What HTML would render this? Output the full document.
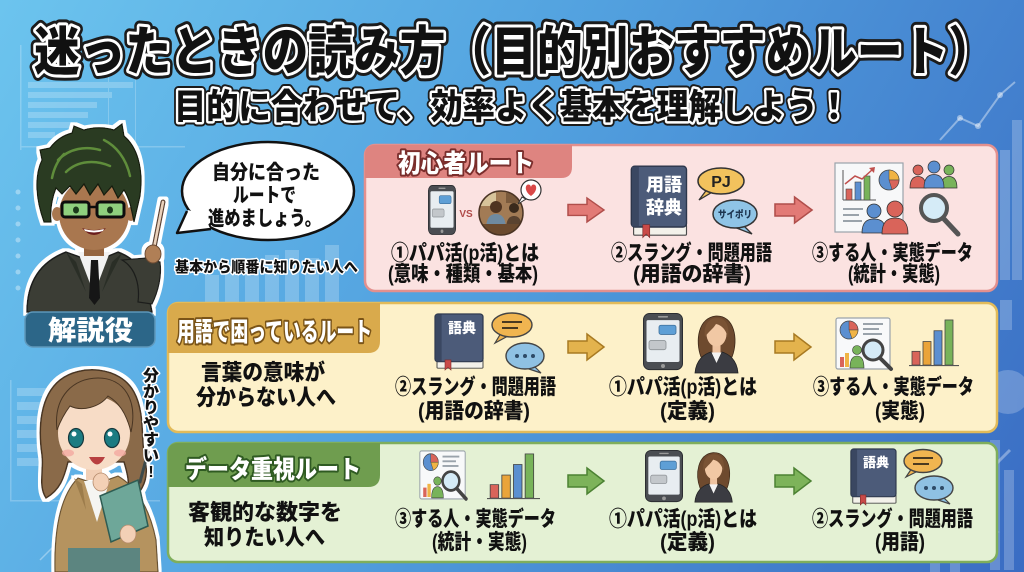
<!DOCTYPE html>
<html><head><meta charset="utf-8"><title>迷ったときの読み方</title>
<style>
html,body{margin:0;padding:0;width:1024px;height:572px;overflow:hidden;background:#4a8fd6}
svg{display:block}
text{font-family:"Liberation Sans","Noto Sans CJK JP",sans-serif;font-weight:900}
</style></head><body>
<svg xmlns="http://www.w3.org/2000/svg" width="1024" height="572" viewBox="0 0 1024 572">
<defs>
 <linearGradient id="bg" x1="0" y1="0" x2="1024" y2="572" gradientUnits="userSpaceOnUse">
  <stop offset="0" stop-color="#6cc4ee"/>
  <stop offset="0.45" stop-color="#52a1df"/>
  <stop offset="1" stop-color="#3a6cc3"/>
 </linearGradient>
 <filter id="ol" x="-15%" y="-15%" width="130%" height="130%">
  <feMorphology in="SourceAlpha" operator="dilate" radius="3" result="d"/>
  <feFlood flood-color="#ffffff" result="f"/>
  <feComposite in="f" in2="d" operator="in" result="w"/>
  <feMerge><feMergeNode in="w"/><feMergeNode in="SourceGraphic"/></feMerge>
 </filter>
 <clipPath id="photo"><circle cx="501" cy="213" r="22"/></clipPath>
 <g id="phone">
  <rect x="0.5" y="0.5" width="39" height="55" rx="6" fill="#4a4d52" stroke="#2b2d31"/>
  <rect x="3.5" y="7" width="33" height="41" rx="1.5" fill="#e8edf1"/>
  <rect x="16" y="12" width="17" height="9" rx="2" fill="#5e9fd6" stroke="#3d6f9b" stroke-width="0.8"/>
  <rect x="6" y="27" width="17" height="9" rx="2" fill="#c3c7cb" stroke="#8d9296" stroke-width="0.8"/>
  <rect x="15" y="3" width="10" height="1.5" rx="0.7" fill="#999"/>
  <circle cx="20" cy="52" r="2" fill="#999"/>
 </g>
 <g id="woman">
  <path d="M7,44 C1,28 4,5 22,3 C40,2 45,26 38,44 Z" fill="#6e4a2e" stroke="#3d2919" stroke-width="0.8"/>
  <rect x="18.5" y="30" width="8" height="10" fill="#eec3a0"/>
  <path d="M1,60 C2,47 10,41 17,39 L22.5,49 L28,39 C35,41 43,47 44,60 Z" fill="#3b3c42" stroke="#222" stroke-width="0.8"/>
  <path d="M17.5,39.5 L22.5,50 L27.5,39.5 Z" fill="#f3f3f3"/>
  <ellipse cx="22.5" cy="21" rx="10" ry="12.5" fill="#f1c8a4"/>
  <path d="M11,24 C9,11 16,5 23,5 C31,5 36,11 34,25 C32,16 27,12 22,11 C19,16 14,19 11,24 Z" fill="#7a5334"/>
 </g>
 <g id="book">
  <rect x="4" y="51" width="46" height="9" rx="1" fill="#f3f1ea" stroke="#4a4a4a" stroke-width="1"/>
  <rect x="2" y="1" width="48" height="52" rx="3" fill="#4c5b79" stroke="#2c364b" stroke-width="1.2"/>
  <rect x="2.6" y="1.6" width="6" height="51" fill="#3a4761"/>
  <path d="M12,51 V62 L15,59 L18,62 V51 Z" fill="#c94a48" stroke="#7d2b2a" stroke-width="0.6"/>
 </g>
 <g id="report">
  <rect x="1" y="1" width="54" height="51" rx="2" fill="#f8f9fa" stroke="#9aa3ab" stroke-width="1.2"/>
  <circle cx="14" cy="13" r="9" fill="#5b8fd0" stroke="#444" stroke-width="0.7"/>
  <path d="M14,13 V4 A9,9 0 0 1 23,13 Z" fill="#d9645a" stroke="#444" stroke-width="0.5"/>
  <path d="M14,13 H23 A9,9 0 0 1 17,21.5 Z" fill="#f0b445" stroke="#444" stroke-width="0.5"/>
  <rect x="28" y="6" width="20" height="2" fill="#9aa3ab"/>
  <rect x="28" y="11" width="16" height="2" fill="#9aa3ab"/>
  <rect x="28" y="16" width="19" height="2" fill="#9aa3ab"/>
  <rect x="5" y="40" width="4" height="10" fill="#d9645a"/>
  <rect x="10" y="36" width="4" height="14" fill="#f0b445"/>
  <circle cx="22" cy="33" r="4.5" fill="#78b35a" stroke="#333" stroke-width="0.6"/>
  <path d="M15,51 C15,42 18,39 22,39 C26,39 29,42 29,51 Z" fill="#78b35a" stroke="#333" stroke-width="0.6"/>
  <circle cx="38" cy="33" r="10" fill="#d5ebf7" stroke="#444" stroke-width="3"/>
  <line x1="45" y1="41" x2="56" y2="52" stroke="#444" stroke-width="4" stroke-linecap="round"/>
 </g>
 <g id="bars">
  <rect x="3" y="34" width="8" height="14" fill="#d9645a" stroke="#444" stroke-width="0.8"/>
  <rect x="14" y="24" width="8" height="24" fill="#eaa43a" stroke="#444" stroke-width="0.8"/>
  <rect x="25" y="13" width="8" height="35" fill="#5b8fd0" stroke="#444" stroke-width="0.8"/>
  <rect x="36" y="2" width="8" height="46" fill="#78b35a" stroke="#444" stroke-width="0.8"/>
  <line x1="0" y1="48.5" x2="50" y2="48.5" stroke="#555" stroke-width="1.2"/>
 </g>
 <path id="arr" d="M0,7 H19 V0 L36,13 L19,26 V19 H0 Z"/>
</defs>

<!-- background -->
<rect width="1024" height="572" fill="url(#bg)"/>
<g fill="#ffffff" opacity="0.22">
 <rect x="28" y="82" width="105" height="6"/>
 <rect x="28" y="92" width="84" height="6"/>
 <rect x="28" y="102" width="69" height="6"/>
 <rect x="28" y="112" width="60" height="6"/>
 <rect x="28" y="122" width="47" height="6"/>
 <rect x="28" y="132" width="27" height="6"/>
 <rect x="20" y="45" width="1.5" height="105"/>
 <rect x="20" y="146" width="165" height="1.5"/>
 <rect x="108" y="45" width="1" height="100"/>
 <rect x="135" y="45" width="1" height="100"/>
 <rect x="205" y="275" width="14" height="28"/>
 <rect x="225" y="262" width="14" height="41"/>
 <rect x="245" y="268" width="14" height="35"/>
 <rect x="265" y="255" width="14" height="48"/>
 <rect x="285" y="250" width="14" height="53"/>
 <rect x="305" y="258" width="14" height="45"/>
 <rect x="325" y="245" width="14" height="58"/>
 <rect x="17" y="388" width="30" height="8"/>
 <rect x="17" y="402" width="26" height="8"/>
 <rect x="17" y="416" width="22" height="8"/>
 <rect x="17" y="430" width="28" height="8"/>
 <rect x="17" y="444" width="20" height="8"/>
 <rect x="17" y="458" width="24" height="8"/>
 <rect x="10" y="380" width="1.5" height="120"/>
 <rect x="10" y="500" width="150" height="1.5"/>
 <rect x="1000" y="150" width="10" height="130"/>
 <rect x="1012" y="120" width="10" height="160"/>
 <rect x="1000" y="300" width="12" height="30"/>
 <rect x="990" y="440" width="10" height="130"/>
 <rect x="1004" y="470" width="10" height="100"/>
 <rect x="930" y="562" width="10" height="10"/>
 <rect x="950" y="562" width="10" height="10"/>
 <circle cx="1008" cy="392" r="22"/>
</g>
<g fill="#ffffff" opacity="0.35">
 <circle cx="18" cy="192" r="2.5"/><circle cx="18" cy="208" r="2.5"/><circle cx="18" cy="224" r="2.5"/>
 <circle cx="18" cy="240" r="2.5"/><circle cx="18" cy="256" r="2.5"/><circle cx="18" cy="272" r="2.5"/>
 <circle cx="18" cy="288" r="2.5"/>
</g>
<polyline points="940,140 960,118 978,126 1000,95 1015,82" fill="none" stroke="#ffffff" stroke-opacity="0.4" stroke-width="2"/>
<g fill="#ffffff" opacity="0.45"><circle cx="960" cy="118" r="3"/><circle cx="978" cy="126" r="3"/><circle cx="1000" cy="95" r="3"/></g>
<polyline points="40,560 60,540 75,548 95,525" fill="none" stroke="#ffffff" stroke-opacity="0.35" stroke-width="1.5"/>
<line x1="990" y1="470" x2="1010" y2="450" stroke="#ffffff" stroke-opacity="0.35" stroke-width="3"/>
<path d="M983,515 C985,527 988,530 1000,532 C988,534 985,537 983,549 C981,537 978,534 966,532 C978,530 981,527 983,515 Z" fill="#ffffff" opacity="0.45"/>

<!-- title -->
<text x="34" y="70" font-size="53" textLength="960" lengthAdjust="spacingAndGlyphs" fill="none" stroke="#1c1c1c" stroke-width="12" stroke-linejoin="round">迷ったときの読み方（目的別おすすめルート）</text>
<text x="34" y="70" font-size="53" textLength="960" lengthAdjust="spacingAndGlyphs" fill="#111" stroke="#ffffff" stroke-width="6" stroke-linejoin="round" paint-order="stroke">迷ったときの読み方（目的別おすすめルート）</text>
<text x="174" y="119" font-size="35" textLength="676" lengthAdjust="spacingAndGlyphs" fill="none" stroke="#1c1c1c" stroke-width="9" stroke-linejoin="round">目的に合わせて、効率よく基本を理解しよう！</text>
<text x="174" y="119" font-size="35" textLength="676" lengthAdjust="spacingAndGlyphs" fill="#111" stroke="#ffffff" stroke-width="5" stroke-linejoin="round" paint-order="stroke">目的に合わせて、効率よく基本を理解しよう！</text>

<!-- man character -->
<g filter="url(#ol)">
 <path d="M27,312 C27,282 40,262 66,252 L94,262 L118,252 C134,258 142,268 146,282 L152,312 Z" fill="#3a3e35" stroke="#1d1f1a" stroke-width="1.5"/>
 <path d="M78,252 L94,294 L110,252 Z" fill="#f2f2f2"/>
 <path d="M91,260 H98 L100,298 L94.5,305 L89,298 Z" fill="#161616"/>
 <path d="M66,252 L86,292 L76,262 Z" fill="#2a2d26"/>
 <path d="M122,253 L102,292 L112,262 Z" fill="#2a2d26"/>
 <rect x="84" y="240" width="20" height="16" fill="#95653f"/>
 <ellipse cx="57" cy="214" rx="5" ry="7" fill="#a9774f"/>
 <ellipse cx="131" cy="214" rx="5" ry="7" fill="#a9774f"/>
 <ellipse cx="94" cy="214" rx="35" ry="36" fill="#a9774f"/>
 <path d="M44,222 C36,200 34,176 42,160 L40,150 L50,148 C56,140 64,135 72,133 L74,126 L84,130 C94,127 104,127 114,130 L122,124 L124,136 C136,146 144,166 140,196 L134,222 C131,206 129,198 124,190 L118,198 L112,186 L104,195 L98,184 L90,195 L84,184 L76,194 L70,186 L62,194 L56,188 C52,198 50,210 51,222 Z" fill="#2b3a23" stroke="#131a0e" stroke-width="1.2"/>
 <path d="M58,160 C70,148 86,146 100,150 M66,172 C78,160 96,160 110,166 M104,140 C116,146 126,158 130,176 M52,178 C54,168 58,160 64,154" fill="none" stroke="#5f8d3b" stroke-width="2.5" stroke-linecap="round"/>
 <rect x="62" y="202" width="27" height="15" rx="3" fill="#8fd07e" stroke="#111" stroke-width="3"/>
 <rect x="97" y="202" width="27" height="15" rx="3" fill="#8fd07e" stroke="#111" stroke-width="3"/>
 <line x1="89" y1="207" x2="97" y2="207" stroke="#111" stroke-width="2.5"/>
 <ellipse cx="76" cy="210" rx="3" ry="3.5" fill="#1f3a1a"/>
 <ellipse cx="110" cy="210" rx="3" ry="3.5" fill="#1f3a1a"/>
 <path d="M82,228 Q94,242 106,228 Q94,232 82,228 Z" fill="#6b1f1f"/>
 <path d="M84,229 Q94,232 104,229 L103,231 Q94,234 85,231 Z" fill="#ffffff"/>
 <path d="M122,260 C136,268 140,286 138,302 L152,304 C158,292 162,276 160,262 L146,258 Z" fill="#3a3e35" stroke="#1d1f1a" stroke-width="1.2"/>
 <line x1="163" y1="202" x2="152" y2="258" stroke="#5a4030" stroke-width="5" stroke-linecap="round"/>
 <line x1="163" y1="202" x2="152" y2="258" stroke="#ead2bc" stroke-width="2.6" stroke-linecap="round"/>
 <ellipse cx="153" cy="254" rx="8" ry="9" fill="#b07f57" stroke="#6b4a30" stroke-width="1"/>
</g>

<!-- speech bubble -->
<ellipse cx="268" cy="191" rx="86" ry="49" fill="#ffffff" stroke="#111" stroke-width="2.5"/>
<polygon points="210,228 177,233 188,210 205,215" fill="#ffffff"/>
<polyline points="211,229 177,233 187,211" fill="none" stroke="#111" stroke-width="2.5" stroke-linejoin="round"/>
<text x="212" y="179" font-size="20" textLength="108" lengthAdjust="spacingAndGlyphs" fill="#111">自分に合った</text>
<text x="233" y="202" font-size="20" textLength="63" lengthAdjust="spacingAndGlyphs" fill="#111">ルートで</text>
<text x="208" y="225" font-size="20" textLength="113" lengthAdjust="spacingAndGlyphs" fill="#111">進めましょう。</text>
<text x="175" y="272" font-size="15" textLength="183" lengthAdjust="spacingAndGlyphs" fill="#111" stroke="#ffffff" stroke-width="3" stroke-linejoin="round" paint-order="stroke">基本から順番に知りたい人へ</text>

<!-- 解説役 label -->
<rect x="25" y="312" width="130" height="35" rx="8" fill="#2c6688" stroke="#5f98bb" stroke-width="1.5"/>
<text x="48" y="340" font-size="27" textLength="85" lengthAdjust="spacingAndGlyphs" fill="#ffffff">解説役</text>

<!-- woman character -->
<g filter="url(#ol)">
 <path d="M60,380 C80,364 120,366 134,392 C146,414 140,442 146,466 C148,482 140,496 128,500 C130,482 127,472 124,462 L68,462 C64,478 60,490 46,498 C38,486 44,470 42,455 C38,428 40,396 60,380 Z" fill="#8a6a49" stroke="#4a3624" stroke-width="1.5"/>
 <path d="M55,572 C54,530 60,496 78,478 L96,484 L118,476 C138,488 150,510 156,540 L158,572 Z" fill="#b5935f" stroke="#6a5230" stroke-width="1.2"/>
 <path d="M84,481 L97,522 L110,480 Z" fill="#f5f5f2"/>
 <path d="M74,478 L86,510 L82,484 Z" fill="#9c7c4c"/>
 <rect x="68" y="548" width="72" height="24" fill="#5b8580"/>
 <rect x="86" y="460" width="16" height="20" fill="#f2cfb5"/>
 <ellipse cx="94" cy="433" rx="36" ry="37" fill="#f7dcc6"/>
 <path d="M57,430 C53,396 74,378 98,378 C124,378 138,400 131,432 C126,412 118,402 108,396 C100,407 82,412 70,406 C64,414 60,422 57,430 Z" fill="#8a6a49" stroke="#4a3624" stroke-width="1"/>
 <ellipse cx="76" cy="438" rx="7.5" ry="9.5" fill="#1f7b82" stroke="#13383c" stroke-width="1.2"/>
 <ellipse cx="112" cy="438" rx="7.5" ry="9.5" fill="#1f7b82" stroke="#13383c" stroke-width="1.2"/>
 <circle cx="74" cy="434" r="2.5" fill="#ffffff"/>
 <circle cx="110" cy="434" r="2.5" fill="#ffffff"/>
 <ellipse cx="68" cy="453" rx="6" ry="3.5" fill="#f3a9a0" opacity="0.8"/>
 <ellipse cx="120" cy="453" rx="6" ry="3.5" fill="#f3a9a0" opacity="0.8"/>
 <path d="M89,457 Q97,472 105,457 Z" fill="#b8403f"/>
 <ellipse cx="101" cy="482" rx="8" ry="9" fill="#f3d0b6" stroke="#b68b6c" stroke-width="0.8"/>
 <path d="M100,496 L138,480 L148,526 L111,542 Z" fill="#6ea799" stroke="#2e5b52" stroke-width="1.5"/>
 <line x1="140" y1="482" x2="148" y2="452" stroke="#3d4a4a" stroke-width="3" stroke-linecap="round"/>
 <ellipse cx="128" cy="534" rx="8" ry="9" fill="#f3d0b6" stroke="#b68b6c" stroke-width="0.8"/>
</g>
<g font-size="16" fill="#111" stroke="#ffffff" stroke-width="3" stroke-linejoin="round" paint-order="stroke" text-anchor="middle">
 <text x="151" y="381">分</text>
 <text x="151" y="397">か</text>
 <text x="151" y="413">り</text>
 <text x="151" y="429">や</text>
 <text x="151" y="445">す</text>
 <text x="151" y="461">い</text>
 <text x="151" y="477">!</text>
</g>

<!-- ===== Pink panel ===== -->
<rect x="365" y="145" width="632" height="146" rx="10" fill="#fbe2e1" stroke="#e3908e" stroke-width="2.5"/>
<path d="M365,178 V155 Q365,145 375,145 H572 V167 Q572,178 561,178 Z" fill="#de8480"/>
<text x="398" y="172" font-size="25" textLength="136" lengthAdjust="spacingAndGlyphs" fill="#ffffff" stroke="#7a2e2c" stroke-width="4" stroke-linejoin="round" paint-order="stroke">初心者ルート</text>

<use href="#phone" transform="translate(428,185) scale(0.7,0.89)"/>
<text x="466" y="217" font-size="10" text-anchor="middle" fill="#b04a48">VS</text>
<g clip-path="url(#photo)">
 <rect x="478" y="190" width="46" height="46" fill="#a27b55"/>
 <rect x="480" y="192" width="16" height="14" fill="#d8c49b"/>
 <rect x="506" y="193" width="14" height="10" fill="#7a5a3c"/>
 <circle cx="496" cy="207" r="6" fill="#4f3421"/>
 <path d="M486,230 C486,218 490,214 496,214 C502,214 506,218 506,230 Z" fill="#6f8aa0"/>
 <circle cx="514" cy="208" r="5" fill="#3a2a1c"/>
 <path d="M506,230 C506,220 509,216 514,216 C519,216 522,220 522,230 Z" fill="#5a4330"/>
 <rect x="478" y="224" width="46" height="12" fill="#6b4a2e"/>
</g>
<circle cx="501" cy="213" r="22" fill="none" stroke="#4a3424" stroke-width="1.5"/>
<path d="M522,197 L518,204 L526,199 Z" fill="#ffffff" stroke="#333" stroke-width="1"/>
<circle cx="531" cy="190" r="10" fill="#ffffff" stroke="#333" stroke-width="1.2"/>
<path d="M531,196 C524,191 525,184.5 528.5,184.5 C530,184.5 531,186 531,187.5 C531,186 532,184.5 533.5,184.5 C537,184.5 538,191 531,196 Z" fill="#d94848"/>

<use href="#arr" transform="translate(568,198) scale(1,0.92)" fill="#e27a76" stroke="#b04e4b" stroke-width="1.5"/>

<use href="#book" transform="translate(629,165) scale(1.15,1.17)"/>
<text x="664" y="191" font-size="18" text-anchor="middle" fill="#ffffff">用語</text>
<text x="664" y="214" font-size="18" text-anchor="middle" fill="#ffffff">辞典</text>
<path d="M708,188 L699,200 L714,191 Z" fill="#f2c25d" stroke="#333" stroke-width="1.3"/>
<ellipse cx="721" cy="181" rx="23" ry="13" fill="#f2c25d" stroke="#333" stroke-width="1.5"/>
<text x="721" y="187" font-size="16" text-anchor="middle" fill="#222">PJ</text>
<path d="M742,224 L752,234 L734,227 Z" fill="#8fc4e6" stroke="#333" stroke-width="1.3"/>
<ellipse cx="735" cy="214" rx="22" ry="14" fill="#8fc4e6" stroke="#333" stroke-width="1.5"/>
<text x="735" y="218" font-size="10" textLength="34" lengthAdjust="spacingAndGlyphs" text-anchor="middle" fill="#1d3550">サイポリ</text>

<use href="#arr" transform="translate(775,197) scale(1.03,1)" fill="#e27a76" stroke="#b04e4b" stroke-width="1.5"/>

<rect x="835" y="163" width="68" height="69" fill="#f7f8f9" stroke="#9aa3ab" stroke-width="1.2"/>
<line x1="843" y1="170" x2="843" y2="200" stroke="#555" stroke-width="1"/>
<line x1="843" y1="200" x2="876" y2="200" stroke="#555" stroke-width="1"/>
<rect x="846" y="189" width="6" height="11" fill="#d9645a" stroke="#444" stroke-width="0.6"/>
<rect x="855" y="182" width="6" height="18" fill="#5b8fd0" stroke="#444" stroke-width="0.6"/>
<rect x="864" y="176" width="6" height="24" fill="#78b35a" stroke="#444" stroke-width="0.6"/>
<polyline points="845,184 855,176 862,179 873,169" fill="none" stroke="#c0504d" stroke-width="1.5"/>
<path d="M869,168 L875,167 L874,173 Z" fill="#c0504d"/>
<circle cx="889" cy="180" r="10" fill="#5b8fd0" stroke="#444" stroke-width="0.8"/>
<path d="M889,180 V170 A10,10 0 0 1 899,180 Z" fill="#f0b445" stroke="#444" stroke-width="0.5"/>
<path d="M889,180 H899 A10,10 0 0 1 892,189.5 Z" fill="#d9645a" stroke="#444" stroke-width="0.5"/>
<rect x="843" y="208" width="20" height="2" fill="#9aa3ab"/>
<rect x="843" y="214" width="16" height="2" fill="#9aa3ab"/>
<rect x="843" y="220" width="19" height="2" fill="#9aa3ab"/>
<circle cx="874" cy="211" r="7" fill="#5b8fd0" stroke="#333" stroke-width="0.8"/>
<path d="M862,233 C862,222 867,219 874,219 C881,219 886,222 886,233 Z" fill="#5b8fd0" stroke="#333" stroke-width="0.8"/>
<circle cx="895" cy="209" r="8" fill="#d9645a" stroke="#333" stroke-width="0.8"/>
<path d="M882,234 C882,221 888,218 895,218 C902,218 908,221 908,234 Z" fill="#d9645a" stroke="#333" stroke-width="0.8"/>
<circle cx="918" cy="170" r="5" fill="#d9645a" stroke="#333" stroke-width="0.7"/>
<path d="M910,188 C910,180 913,176.5 918,176.5 C923,176.5 926,180 926,188 Z" fill="#d9645a" stroke="#333" stroke-width="0.7"/>
<circle cx="949" cy="170" r="5" fill="#78b35a" stroke="#333" stroke-width="0.7"/>
<path d="M941,188 C941,180 944,176.5 949,176.5 C954,176.5 957,180 957,188 Z" fill="#78b35a" stroke="#333" stroke-width="0.7"/>
<circle cx="934" cy="167" r="6" fill="#5b8fd0" stroke="#333" stroke-width="0.7"/>
<path d="M924,188 C924,178 928,174.5 934,174.5 C940,174.5 944,178 944,188 Z" fill="#5b8fd0" stroke="#333" stroke-width="0.7"/>
<circle cx="934" cy="208" r="13" fill="#d5ebf7" stroke="#555" stroke-width="4"/>
<line x1="944" y1="219" x2="958" y2="234" stroke="#555" stroke-width="5" stroke-linecap="round"/>

<g font-size="21" fill="#111">
 <text x="391" y="260" textLength="148" lengthAdjust="spacingAndGlyphs">①パパ活(p活)とは</text>
 <text x="388" y="281" textLength="150" lengthAdjust="spacingAndGlyphs">(意味・種類・基本)</text>
 <text x="611" y="260" textLength="161" lengthAdjust="spacingAndGlyphs">②スラング・問題用語</text>
 <text x="633" y="281" textLength="118" lengthAdjust="spacingAndGlyphs">(用語の辞書)</text>
 <text x="812" y="260" textLength="161" lengthAdjust="spacingAndGlyphs">③する人・実態データ</text>
 <text x="848" y="281" textLength="92" lengthAdjust="spacingAndGlyphs">(統計・実態)</text>
</g>

<!-- ===== Yellow panel ===== -->
<rect x="168" y="303" width="829" height="129" rx="10" fill="#fdf1c9" stroke="#e2bb5a" stroke-width="2.5"/>
<path d="M168,353 V313 Q168,303 178,303 H380 V341 Q380,353 368,353 Z" fill="#d9aa4c"/>
<text x="177" y="341" font-size="26" textLength="195" lengthAdjust="spacingAndGlyphs" fill="#ffffff" stroke="#7a5418" stroke-width="4" stroke-linejoin="round" paint-order="stroke">用語で困っているルート</text>

<use href="#book" transform="translate(433,313) scale(1,0.92)"/>
<text x="462" y="333" font-size="14" text-anchor="middle" fill="#ffffff">語典</text>
<path d="M501,333 L495,343 L508,336 Z" fill="#f0b550" stroke="#444" stroke-width="1.2"/>
<ellipse cx="512" cy="325" rx="20" ry="12" fill="#f0b550" stroke="#444" stroke-width="1.4"/>
<line x1="502" y1="322" x2="522" y2="322" stroke="#4a3a20" stroke-width="2"/>
<line x1="502" y1="328" x2="518" y2="328" stroke="#4a3a20" stroke-width="2"/>
<path d="M533,365 L541,373 L526,368 Z" fill="#8fc1e3" stroke="#444" stroke-width="1.2"/>
<ellipse cx="525" cy="356" rx="19" ry="13" fill="#8fc1e3" stroke="#444" stroke-width="1.4"/>
<circle cx="517" cy="356" r="2" fill="#2e4a66"/><circle cx="525" cy="356" r="2" fill="#2e4a66"/><circle cx="533" cy="356" r="2" fill="#2e4a66"/>

<use href="#arr" transform="translate(568,334)" fill="#e3b34d" stroke="#a87a22" stroke-width="1.5"/>
<use href="#phone" transform="translate(643,313) scale(1,1.02)"/>
<use href="#woman" transform="translate(694,313)"/>
<use href="#arr" transform="translate(775,334)" fill="#e3b34d" stroke="#a87a22" stroke-width="1.5"/>
<use href="#report" transform="translate(835,317)"/>
<use href="#bars" transform="translate(909,318) scale(1,0.98)"/>

<g font-size="22" fill="#111">
 <text x="201" y="380" textLength="124" lengthAdjust="spacingAndGlyphs">言葉の意味が</text>
 <text x="196" y="405" textLength="140" lengthAdjust="spacingAndGlyphs">分からない人へ</text>
</g>
<g font-size="21" fill="#111">
 <text x="395" y="394" textLength="161" lengthAdjust="spacingAndGlyphs">②スラング・問題用語</text>
 <text x="418" y="418" textLength="112" lengthAdjust="spacingAndGlyphs">(用語の辞書)</text>
 <text x="609" y="394" textLength="148" lengthAdjust="spacingAndGlyphs">①パパ活(p活)とは</text>
 <text x="660" y="418" textLength="55" lengthAdjust="spacingAndGlyphs">(定義)</text>
 <text x="813" y="394" textLength="161" lengthAdjust="spacingAndGlyphs">③する人・実態データ</text>
 <text x="875" y="418" textLength="50" lengthAdjust="spacingAndGlyphs">(実態)</text>
</g>

<!-- ===== Green panel ===== -->
<rect x="168" y="443" width="829" height="119" rx="10" fill="#e4f1d4" stroke="#7fae5c" stroke-width="2.5"/>
<path d="M168,487 V453 Q168,443 178,443 H380 V475 Q380,487 368,487 Z" fill="#6f9d4f"/>
<text x="185" y="478" font-size="25" textLength="176" lengthAdjust="spacingAndGlyphs" fill="#ffffff" stroke="#2f5a22" stroke-width="4" stroke-linejoin="round" paint-order="stroke">データ重視ルート</text>

<use href="#report" transform="translate(419,450) scale(0.84,0.94)"/>
<use href="#bars" transform="translate(487,452) scale(1.06,0.96)"/>
<use href="#arr" transform="translate(568,468)" fill="#7db35a" stroke="#4c8233" stroke-width="1.5"/>
<use href="#phone" transform="translate(645,450) scale(0.95,0.93)"/>
<use href="#woman" transform="translate(694,450) scale(0.87,0.87)"/>
<use href="#arr" transform="translate(775,468)" fill="#7db35a" stroke="#4c8233" stroke-width="1.5"/>
<use href="#book" transform="translate(849,448) scale(0.94,0.92)"/>
<text x="876" y="467" font-size="13" text-anchor="middle" fill="#ffffff">語典</text>
<path d="M912,468 L906,477 L918,471 Z" fill="#f0b550" stroke="#444" stroke-width="1.2"/>
<ellipse cx="923" cy="461" rx="19" ry="11.5" fill="#f0b550" stroke="#444" stroke-width="1.4"/>
<line x1="913" y1="458" x2="933" y2="458" stroke="#4a3a20" stroke-width="2"/>
<line x1="913" y1="464" x2="929" y2="464" stroke="#4a3a20" stroke-width="2"/>
<path d="M942,496 L950,504 L935,499 Z" fill="#8fc1e3" stroke="#444" stroke-width="1.2"/>
<ellipse cx="934" cy="488" rx="19" ry="12" fill="#8fc1e3" stroke="#444" stroke-width="1.4"/>
<circle cx="926" cy="488" r="2" fill="#2e4a66"/><circle cx="934" cy="488" r="2" fill="#2e4a66"/><circle cx="942" cy="488" r="2" fill="#2e4a66"/>

<g font-size="22" fill="#111">
 <text x="188" y="520" textLength="154" lengthAdjust="spacingAndGlyphs">客観的な数字を</text>
 <text x="204" y="545" textLength="121" lengthAdjust="spacingAndGlyphs">知りたい人へ</text>
</g>
<g font-size="21" fill="#111">
 <text x="395" y="526" textLength="161" lengthAdjust="spacingAndGlyphs">③する人・実態データ</text>
 <text x="432" y="549" textLength="95" lengthAdjust="spacingAndGlyphs">(統計・実態)</text>
 <text x="609" y="526" textLength="148" lengthAdjust="spacingAndGlyphs">①パパ活(p活)とは</text>
 <text x="660" y="549" textLength="55" lengthAdjust="spacingAndGlyphs">(定義)</text>
 <text x="812" y="526" textLength="161" lengthAdjust="spacingAndGlyphs">②スラング・問題用語</text>
 <text x="875" y="549" textLength="50" lengthAdjust="spacingAndGlyphs">(用語)</text>
</g>
</svg>
</body></html>
